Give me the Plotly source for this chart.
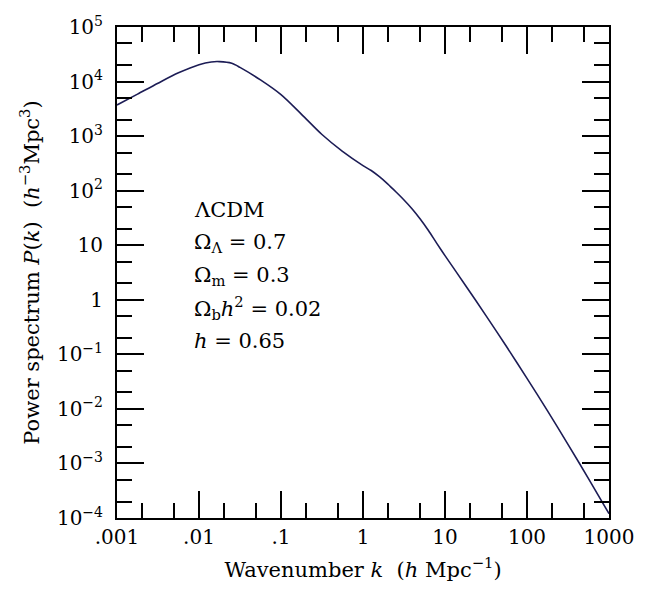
import plotly.graph_objects as go

# Data (wavenumber k in h/Mpc, power spectrum P(k))
k_vals = [0.001, 0.00178, 0.00316, 0.00562, 0.01, 0.0141, 0.0178, 0.0251, 0.0316,
          0.0562, 0.1, 0.178, 0.316, 0.562, 1.0, 1.259, 1.585, 1.995, 2.512, 3.162,
          3.981, 5.012, 6.310, 7.943, 10.0,
          17.8, 31.6, 56.2, 100.0, 178.0, 316.0, 562.0, 1000.0]
p_vals = [3720, 5890, 9330, 14450, 20400, 22900, 23200, 21600, 18200,
          10700, 5750, 2510, 1070, 525, 288, 234, 180, 133, 95.5, 67.6,
          46.2, 29.9, 18.4, 10.8, 6.46,
          1.83, 0.513, 0.139, 0.0363, 0.00918, 0.00224, 5.28e-4, 1.20e-4]

x_decades = [0.001, 0.01, 0.1, 1, 10, 100, 1000]
x_ticktext = [".001", ".01", ".1", "1", "10", "100", "1000"]
y_decades = [1e-4, 1e-3, 1e-2, 1e-1, 1, 10, 1e2, 1e3, 1e4, 1e5]
y_ticktext = ["10<sup>−4</sup>", "10<sup>−3</sup>", "10<sup>−2</sup>", "10<sup>−1</sup>",
              "1", "10", "10<sup>2</sup>", "10<sup>3</sup>", "10<sup>4</sup>", "10<sup>5</sup>"]
minor_mults = [2, 5]

params = ["ΛCDM",
          "Ω<sub>Λ</sub> = 0.7",
          "Ω<sub>m</sub> = 0.3",
          "Ω<sub>b</sub><i>h</i><sup>2</sup> = 0.02",
          "<i>h</i> = 0.65"]

FONT = "DejaVu Serif"

x_minor = [d * m for d in x_decades[:-1] for m in minor_mults]
y_minor = [d * m for d in y_decades[:-1] for m in minor_mults]

fig = go.Figure()
fig.add_trace(go.Scatter(x=k_vals, y=p_vals, mode="lines",
                         line=dict(color="#1c1c55", width=1.6, shape="spline", smoothing=0.8),
                         showlegend=False, hoverinfo="skip"))

axis_common = dict(type="log", showgrid=False, zeroline=False, showline=True,
                   linecolor="black", linewidth=2, mirror="allticks", automargin=False,
                   ticks="inside", ticklen=27, tickwidth=1.7, tickcolor="black",
                   tickfont=dict(family=FONT, size=20, color="black"))

fig.update_xaxes(**axis_common, range=[-3, 3], tickvals=x_decades, ticktext=x_ticktext,
                 ticklabelstandoff=0,
                 minor=dict(tickvals=x_minor, ticks="inside", ticklen=15, tickwidth=1.7,
                            tickcolor="black", showgrid=False),
                 title=dict(text="Wavenumber <i>k</i>  (<i>h</i> Mpc<sup>−1</sup>)",
                            font=dict(family=FONT, size=21, color="black"), standoff=14))
fig.update_yaxes(**axis_common, range=[-4, 5], tickvals=y_decades, ticktext=y_ticktext,
                 ticklabelstandoff=8,
                 minor=dict(tickvals=y_minor, ticks="inside", ticklen=15, tickwidth=1.7,
                            tickcolor="black", showgrid=False),
                 title=dict(text="Power spectrum <i>P</i>(<i>k</i>)  (<i>h</i><sup>−3</sup>Mpc<sup>3</sup>)",
                            font=dict(family=FONT, size=21, color="black"), standoff=12))

for i, t in enumerate(params):
    fig.add_annotation(text=t, xref="paper", yref="paper", x=(192 - 117) / 492,
                       y=(518 - (210 + 32.75 * i)) / 491, xanchor="left", yanchor="middle",
                       showarrow=False, font=dict(family=FONT, size=21, color="black"))

# page body has an 8px default margin, so the figure is sized to the remaining window
fig.update_layout(width=646, height=591, margin=dict(l=109, r=45, t=19, b=81),
                  paper_bgcolor="white", plot_bgcolor="white")

fig.write_html("out.html")
